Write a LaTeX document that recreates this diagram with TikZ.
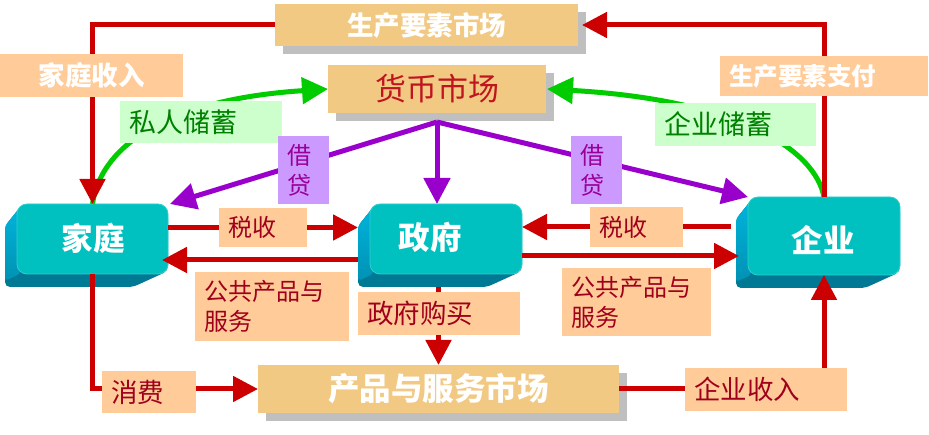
\documentclass[tikz,border=0pt]{standalone}
\usepackage{fontspec}
\setmainfont{Noto Sans CJK SC}
\usetikzlibrary{arrows.meta,shadows,calc}
\definecolor{mktfill}{HTML}{F1C983}
\definecolor{shadowgray}{HTML}{BFBFBF}
\definecolor{peach}{HTML}{FFCC99}
\definecolor{lgreen}{HTML}{CCFFCC}
\definecolor{lilac}{HTML}{CC99FF}
\definecolor{redline}{HTML}{CC0000}
\definecolor{purpline}{HTML}{9900CC}
\definecolor{greenline}{HTML}{00CC00}
\definecolor{labred}{HTML}{A0001C}
\definecolor{hbred}{HTML}{C0141E}
\definecolor{purptext}{HTML}{990099}
\definecolor{greentext}{HTML}{008000}
\definecolor{cubeface}{HTML}{00C0C0}
\definecolor{cubeedge}{HTML}{2ECFCF}
\definecolor{cubeleftA}{HTML}{00B4DC}
\definecolor{cubeleftB}{HTML}{0092B4}
\definecolor{cubebot}{HTML}{007A94}
\pgfdeclarelayer{bg}
\pgfdeclarelayer{lines}
\pgfsetlayers{bg,lines,main}
\tikzset{
  mkt/.style={fill=mktfill, inner sep=0pt, outer sep=0pt, anchor=north west,
    drop shadow={shadow xshift=8pt, shadow yshift=-8pt, fill=shadowgray, opacity=1}},
  lbl/.style={inner xsep=9pt, inner ysep=0pt, outer sep=0pt, anchor=north west, align=left},
  face/.style={rounded corners=10pt, fill=cubeface, draw=cubeedge, line width=0.8pt,
    inner sep=0pt, outer sep=0pt, anchor=north west},
  boxtxt/.style={text=white, font={\fontsize{31.5}{36}\selectfont\bfseries}, inner sep=0pt},
  redarrow/.style={draw=redline, line width=5pt, -{Triangle[length=25pt,width=25pt]}},
  purparrow/.style={draw=purpline, line width=5pt, -{Triangle[length=26pt,width=26pt]}},
  greenarrow/.style={draw=greenline, line width=5pt, -{Triangle[length=26pt,width=26pt]}},
}
\newcommand{\cubebox}[5]{%
  \fill[cubebot, rounded corners=5pt] (#2+4,#3+2) -- (#2-12,#3+22) -- (#2-12,#5+13) -- (#4-35,#5+13) -- (#4,#5-3) -- (#4,#3+10) -- cycle;
  \shade[top color=cubeleftA, bottom color=cubeleftB, rounded corners=3pt] (#2+4,#3+2) -- (#2-12,#3+22) -- (#2-12,#5+7) -- (#2+3,#5) -- cycle;
  \pgfmathsetmacro\cw{#4-#2}\pgfmathsetmacro\ch{#5-#3}%
  \node[face, minimum width=\cw pt, minimum height=\ch pt] (#1) at (#2,#3) {};
  \pgfmathsetmacro\aw{#4-#2+12}\pgfmathsetmacro\ah{#5-#3+13}%
  \node[inner sep=0pt, outer sep=0pt, anchor=north west, minimum width=\aw pt, minimum height=\ah pt] (#1all) at (#2-12,#3) {};
}
\begin{document}
\begin{tikzpicture}[x=1pt,y=-1pt]
\useasboundingbox (0,0) rectangle (929,435);
\begin{pgfonlayer}{bg}
% markets
\node[mkt, minimum width=303pt, minimum height=42pt, text=white, font={\fontsize{26.5}{30}\selectfont\bfseries}] (sc) at (275,4) {生产要素市场};
\node[mkt, minimum width=218pt, minimum height=48pt, text=hbred, font={\fontsize{31}{36}\selectfont}] (hb) at (328,65) {货币市场};
\node[mkt, minimum width=361pt, minimum height=48pt, text=white, font={\fontsize{31.5}{36}\selectfont\bfseries}] (cp) at (258,365) {产品与服务市场};
% 3D boxes
\cubebox{hh}{17}{204}{168}{274}
\cubebox{zf}{370}{204}{522}{274}
\cubebox{qy}{748}{197}{900}{275}
\node[boxtxt] (hhtext) at (93,238) {家庭};
\node[boxtxt] (zftext) at (430,237) {政府};
\node[boxtxt] (qytext) at (823,240) {企业};
\end{pgfonlayer}
% labels
\node[lbl, fill=peach, minimum width=88pt, minimum height=39pt, text width=70pt, text=labred, font={\fontsize{24}{30}\selectfont}] (tx1) at (219,208) {税收};
\node[lbl, fill=peach, minimum width=93pt, minimum height=40pt, text width=75pt, text=labred, font={\fontsize{24}{30}\selectfont}] (tx2) at (590,207) {税收};
\node[fill=peach, inner sep=0pt, outer sep=0pt, anchor=north west, minimum width=183pt, minimum height=43pt, text=white, font={\fontsize{26.5}{30}\selectfont\bfseries}] (jtsr) at (0,54) {家庭收入};
\node[lbl, fill=peach, minimum width=208pt, minimum height=40pt, text width=190pt, text=white, font={\fontsize{24.5}{30}\selectfont\bfseries}] (scpay) at (720,56) {生产要素支付};
\node[lbl, fill=lgreen, minimum width=162pt, minimum height=42pt, text width=144pt, text=greentext, font={\fontsize{27}{30}\selectfont}] (sav1) at (120,101) {私人储蓄};
\node[lbl, fill=lgreen, minimum width=161pt, minimum height=43pt, text width=143pt, text=greentext, font={\fontsize{27}{30}\selectfont}] (sav2) at (655,103) {企业储蓄};
\node[lbl, fill=lilac, minimum width=51pt, minimum height=68pt, text width=33pt, text=purptext, font={\fontsize{24}{30}\selectfont}] (jd1) at (278,136) {借\\贷};
\node[lbl, fill=lilac, minimum width=51pt, minimum height=68pt, text width=33pt, text=purptext, font={\fontsize{24}{30}\selectfont}] (jd2) at (571,136) {借\\贷};
\node[lbl, fill=peach, minimum width=154pt, minimum height=69pt, text width=136pt, text=labred, font={\fontsize{24}{30}\selectfont}] (gg1) at (195,272) {公共产品与\\服务};
\node[lbl, fill=peach, minimum width=149pt, minimum height=68pt, text width=131pt, text=labred, font={\fontsize{24}{30}\selectfont}] (gg2) at (562,268) {公共产品与\\服务};
\node[lbl, fill=peach, minimum width=162pt, minimum height=43pt, text width=144pt, text=labred, font={\fontsize{26.5}{30}\selectfont}] (zfgm) at (358,292) {政府购买};
\node[lbl, fill=peach, minimum width=94pt, minimum height=42pt, text width=76pt, text=labred, font={\fontsize{26.5}{30}\selectfont}] (xf) at (102,371) {消费};
\node[lbl, fill=peach, minimum width=162pt, minimum height=43pt, text width=144pt, text=labred, font={\fontsize{26.5}{30}\selectfont}] (qysr) at (685,368) {企业收入};
\begin{pgfonlayer}{lines}
% green savings curves
\draw[greenarrow] (hh.north) .. controls (100,150) and (160,100) .. (hb.west);
\draw[greenarrow] (qy.north) .. controls (815,150) and (740,100) .. ($(hb.east)+(1,0)$);
% red connectors
\draw[redarrow] (qy.north) |- ($(sc.east)+(4,0)$);
\draw[redarrow] (sc.west) -| (hh.north);
\draw[redarrow] (hh.south) |- (cp.west);
\draw[redarrow] (cp.east) -| (qy.south);
\draw[redarrow] (cp.north |- zfall.south) -- (cp.north);
\draw[redarrow] (hh.east |- tx1.west) -- (zfall.west |- tx1.west);
\draw[redarrow] ($(zfall.west)+(0,14.5)$) -- ($(hh.east)+(-6,21)$);
\draw[redarrow] ($(qyall.west |- tx2.east)+(-5,0)$) -- (zf.east |- tx2.east);
\draw[redarrow] ($(zf.east)+(0,17)$) -- ($(zf.east -| qyall.west)+(3,17)$);
% purple connectors
\draw[purparrow] ($(hb.south)+(0,9)$) -- ($(hh.north east)+(2,0)$);
\draw[purparrow] ($(hb.south)+(0,9)$) -- (hb.south |- zf.north);
\draw[purparrow] ($(hb.south)+(0,9)$) -- (qy.north west);
\end{pgfonlayer}
\end{tikzpicture}
\end{document}
